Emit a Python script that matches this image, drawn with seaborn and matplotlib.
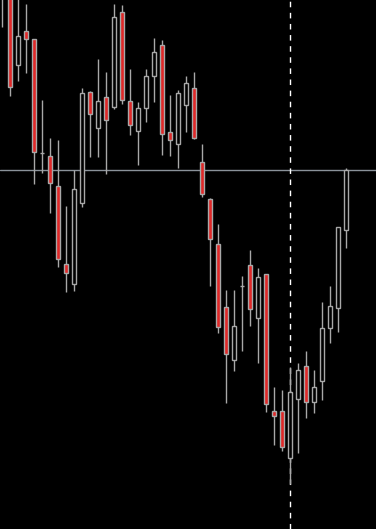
import matplotlib
matplotlib.use("Agg")
import matplotlib.pyplot as plt
import seaborn as sns
import numpy as np
import pandas as pd

# OHLC data (arbitrary price units, higher = up)
opens  = [534, 537, 464, 498, 490, 376, 373, 343, 265, 245, 326, 437, 401, 432, 422,
          517, 428, 398, 421, 453, 484, 397, 385, 424, 441, 367, 330, 285, 222, 169,
          243, 264, 211, 255, 118, 118, 71, 130, 163, 127, 148, 201, 221, 299]
highs  = [554, 539, 534, 525, 490, 429, 391, 389, 323, 359, 441, 438, 470, 457, 525,
          524, 460, 427, 460, 491, 489, 434, 439, 453, 457, 385, 331, 305, 239, 239,
          253, 279, 261, 255, 142, 139, 162, 166, 178, 159, 227, 243, 302, 361]
lows   = [502, 433, 448, 456, 345, 356, 316, 262, 237, 238, 322, 372, 372, 355, 420,
          425, 394, 364, 407, 427, 374, 373, 361, 397, 390, 332, 243, 196, 126, 158,
          178, 203, 166, 117, 84, 78, 45, 76, 111, 116, 129, 186, 197, 281]
closes = [549, 442, 493, 490, 377, 376, 346, 270, 256, 340, 436, 415, 428, 409, 512,
          429, 404, 421, 453, 477, 395, 389, 436, 446, 391, 335, 290, 202, 175, 203,
          243, 220, 252, 125, 113, 82, 137, 159, 127, 142, 201, 223, 302, 359]
crosshair_price = 359
crosshair_bar = 36

df = pd.DataFrame({"open": opens, "high": highs, "low": lows, "close": closes})
df["idx"] = np.arange(len(df))
df["bottom"] = df[["open", "close"]].min(axis=1)
df["height"] = (df["open"] - df["close"]).abs()
df["bear"] = df["close"] < df["open"]

sns.set_theme(style="dark", rc={"axes.facecolor": "black", "figure.facecolor": "black"})

fig = plt.figure(figsize=(3.76, 5.29), dpi=100)
ax = fig.add_axes([0, 0, 1, 1])
ax.set_facecolor("black")

edge = "#a8a8a8"
red = "#e02828"

# crosshair (behind candles)
ax.axhline(crosshair_price, color="#8a929a", linewidth=1.0, zorder=1)
ax.axvline(crosshair_bar, color="white", linewidth=1.0, linestyle=(0, (4, 4)), zorder=1)

# wicks
ax.vlines(df["idx"], df["low"], df["high"], color=edge, linewidth=1.0, zorder=2)

# bodies
w = 0.56
for _, r in df.iterrows():
    if r["height"] < 0.5:
        ax.hlines(r["open"], r["idx"] - w / 2, r["idx"] + w / 2, color=edge, linewidth=1.0, zorder=3)
    else:
        ax.bar(r["idx"], r["height"], bottom=r["bottom"], width=w,
               color=red if r["bear"] else "black", edgecolor=edge, linewidth=1.0, zorder=3)

ax.set_xlim(-0.25, 46.75)
ax.set_ylim(0, 529)
ax.set_xticks([])
ax.set_yticks([])
for s in ax.spines.values():
    s.set_visible(False)

fig.savefig("out.png", dpi=100, facecolor="black")
